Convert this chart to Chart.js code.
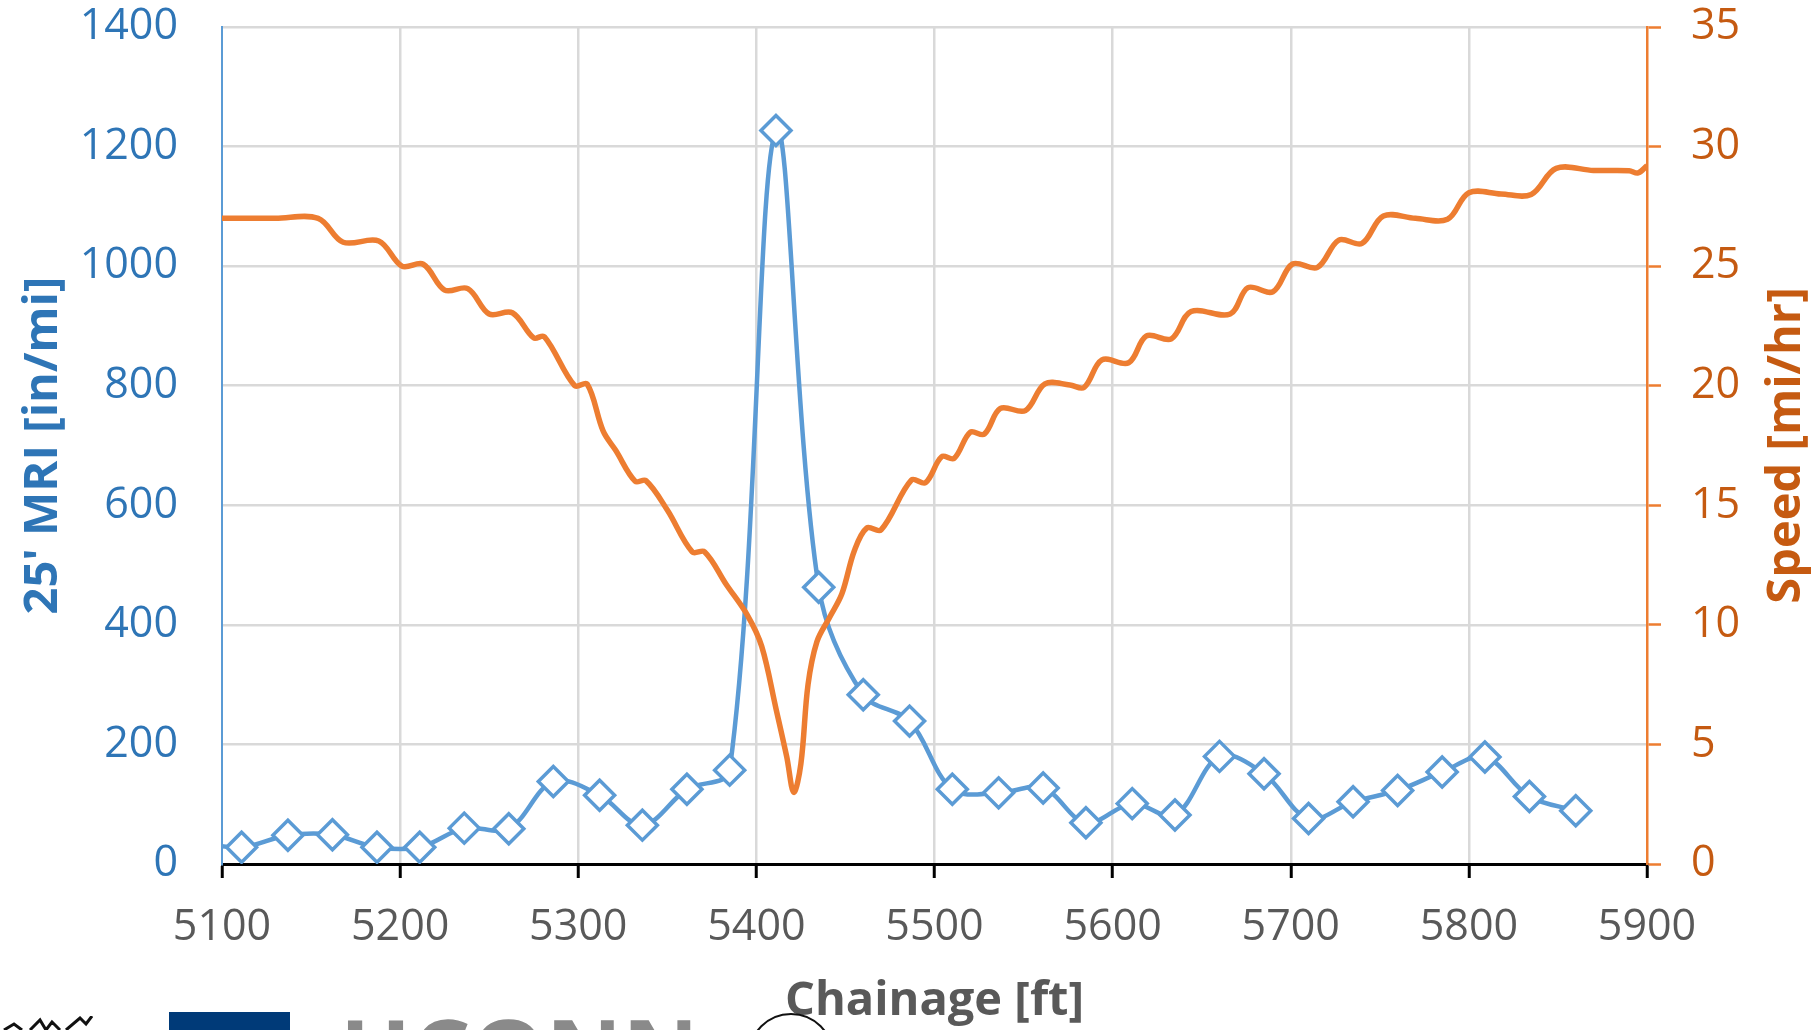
<!DOCTYPE html>
<html>
<head>
<meta charset="utf-8">
<script src="https://cdn.jsdelivr.net/npm/chart.js@4.4.1/dist/chart.umd.min.js"></script>
<style>
  html, body { margin: 0; padding: 0; background: #fff; overflow: hidden; }
  #wrap { position: relative; width: 1819px; height: 1030px; overflow: hidden; }
  .logo { position: absolute; }
  #navy { left: 169px; top: 1012px; width: 121px; height: 18px; background: #003a78; }
  #uconn { left: 340px; top: 1004px; font: bold 94px "Open Sans", sans-serif; line-height: 1; color: #8a8a8a; }
  #seal { left: 748px; top: 1013px; width: 82px; height: 82px; border: 2px solid #111; border-radius: 50%; }
  #mark { left: 0px; top: 1016px; width: 100px; height: 14px; }
</style>
</head>
<body>
<div id="wrap">
  <canvas id="chart"></canvas>
  <div class="logo" id="mark">
    <svg width="100" height="14"><path d="M4 14 L14 8 L22 14 M30 14 L40 4 L46 14 L52 6 L60 14 M66 14 L80 2 L86 8 L92 0" stroke="#111" stroke-width="3" fill="none"/></svg>
  </div>
  <div class="logo" id="navy"></div>
  <div class="logo" id="uconn">UCONN</div>
  <div class="logo" id="seal"></div>
</div>
<script>
// values ---------------------------------------------------------------

// 25' MRI, one diamond every ~25 ft (first one sits just left of the plot)
const mriChainage = [5086, 5111, 5137, 5162, 5187, 5211, 5236, 5261, 5286, 5312, 5336,
  5361, 5385, 5411, 5435, 5460, 5486, 5510, 5536, 5561, 5585, 5611, 5635, 5660, 5685,
  5710, 5735, 5760, 5785, 5809, 5834, 5860];
const mriValues = [36, 28, 48, 49, 28, 28, 60, 59, 138, 115, 65,
  125, 157, 1227, 463, 283, 239, 125, 119, 127, 69, 101, 82, 180, 151,
  76, 104, 123, 154, 179, 113, 89];

// speed trace, corners of the steps
const speedChainage = [5100, 5130, 5154, 5168, 5188, 5201, 5213, 5225, 5238, 5250, 5263,
  5275, 5281, 5298, 5305, 5314, 5321, 5332, 5338, 5350, 5364, 5371, 5383, 5395, 5403,
  5411, 5417, 5421, 5425, 5429, 5434, 5441, 5448, 5455, 5462, 5470, 5487, 5495, 5504,
  5511, 5520, 5528, 5537, 5551, 5562, 5576, 5584, 5594, 5609, 5619, 5633, 5644, 5666,
  5676, 5690, 5701, 5715, 5727, 5740, 5752, 5770, 5788, 5800, 5818, 5835, 5849, 5870, 5890, 5895, 5900];
const speedValues = [27, 27, 27, 26, 26.05, 25, 25.08, 24, 24.06, 23, 23.05,
  22, 22.05, 20, 20.07, 18.1, 17.3, 16, 16.03, 14.8, 13.05, 13.05, 11.7, 10.4, 9.1,
  6.5, 4.5, 3.0, 4.2, 7.5, 9.3, 10.3, 11.3, 13.1, 14.05, 13.97, 16.05, 15.95, 17.03,
  16.96, 18.05, 17.98, 19.05, 18.96, 20.08, 20.03, 19.93, 21.08, 20.96, 22.08, 21.96, 23.1, 23.0,
  24.1, 23.93, 25.09, 24.95, 26.09, 25.95, 27.1, 27.0, 26.96, 28.07, 28.02, 28.0, 29.09, 29.0, 28.99, 28.9, 29.2];

const chainageTicks = [5100, 5200, 5300, 5400, 5500, 5600, 5700, 5800, 5900];
const mriTicks = [0, 200, 400, 600, 800, 1000, 1200, 1400];
const speedTicks = [0, 5, 10, 15, 20, 25, 30, 35];

// ---------------------------------------------------------------------

const tickFont = { family: 'Open Sans', size: 43 };
const titleFont = { family: 'Open Sans', size: 47, weight: 'bold' };
const gridGray = '#D9D9D9';
const none = 'rgba(0,0,0,0)';

function points(xs, ys) {
  return xs.map((x, i) => ({ x: x, y: ys[i] }));
}

function setTicks(list) {
  return (scale) => { scale.ticks = list.map(v => ({ value: v })); };
}

const plain = (v) => String(v);

// excel writes the right axis title bottom-to-top, chart.js would flip it
const speedTitle = {
  id: 'speedTitle',
  afterDraw(chart) {
    const { ctx, chartArea } = chart;
    ctx.save();
    ctx.translate(chart.width - 32, (chartArea.top + chartArea.bottom) / 2);
    ctx.rotate(-Math.PI / 2);
    ctx.font = 'bold 47px "Open Sans"';
    ctx.fillStyle = '#C55A11';
    ctx.textAlign = 'center';
    ctx.textBaseline = 'middle';
    ctx.fillText('Speed [mi/hr]', 0, 0);
    ctx.restore();
  }
};

const config = {
  type: 'line',
  data: {
    datasets: [{
      label: 'Speed',
      data: points(speedChainage, speedValues),
      yAxisID: 'ySpeed',
      borderColor: '#ED7D31',
      borderWidth: 5.5,
      pointRadius: 0,
      tension: 0.35,
      order: 0
    }, {
      label: "25' MRI",
      data: points(mriChainage, mriValues),
      yAxisID: 'yMri',
      borderColor: '#5B9BD5',
      borderWidth: 4.5,
      pointStyle: 'rectRot',
      pointRadius: 15,
      pointBorderWidth: 3.5,
      pointBackgroundColor: '#fff',
      pointBorderColor: '#5B9BD5',
      tension: 0.35,
      order: 1
    }]
  },
  options: {
    responsive: true,
    maintainAspectRatio: false,
    animation: false,
    layout: { padding: { top: 27, left: 0, right: 0, bottom: 0 } },
    plugins: { legend: { display: false }, tooltip: { enabled: false } },
    scales: {
      x: {
        type: 'linear',
        min: 5100,
        max: 5900,
        afterBuildTicks: setTicks(chainageTicks),
        afterFit: (s) => { s.height = 166; },
        grid: {
          color: (ctx) => (ctx.tick && (ctx.tick.value === 5100 || ctx.tick.value === 5900)) ? none : gridGray,
          lineWidth: 2.5,
          tickLength: 14,
          tickColor: '#000',
          tickWidth: 3
        },
        border: { color: '#000', width: 3 },
        ticks: { color: '#595959', font: tickFont, padding: 24, maxRotation: 0, autoSkip: false, callback: plain },
        title: { display: true, text: 'Chainage [ft]', color: '#595959', font: titleFont, padding: { top: 0, bottom: 0 } }
      },
      yMri: {
        position: 'left',
        min: 0,
        max: 1400,
        afterBuildTicks: setTicks(mriTicks),
        afterFit: (s) => { s.width = 222; s.paddingTop = 0; s.paddingBottom = 0; },
        grid: {
          color: (ctx) => (ctx.tick && ctx.tick.value === 0) ? none : gridGray,
          lineWidth: 2.5,
          drawTicks: false
        },
        border: { color: '#5B9BD5', width: 2 },
        ticks: { color: '#2E75B6', font: tickFont, padding: 44, callback: plain },
        title: { display: true, text: "25' MRI [in/mi]", color: '#2E75B6', font: titleFont, padding: { top: 15, bottom: 0 } }
      },
      ySpeed: {
        position: 'right',
        min: 0,
        max: 35,
        afterBuildTicks: setTicks(speedTicks),
        afterFit: (s) => { s.width = 172; s.paddingTop = 0; s.paddingBottom = 0; },
        grid: {
          drawOnChartArea: false,
          tickLength: 14,
          tickColor: '#ED7D31',
          tickWidth: 2.5
        },
        border: { color: '#ED7D31', width: 2.5 },
        ticks: { color: '#C55A11', font: tickFont, padding: 30, callback: plain }
      }
    }
  },
  plugins: [speedTitle]
};

const chart = new Chart(document.getElementById('chart'), config);
</script>
</body>
</html>
